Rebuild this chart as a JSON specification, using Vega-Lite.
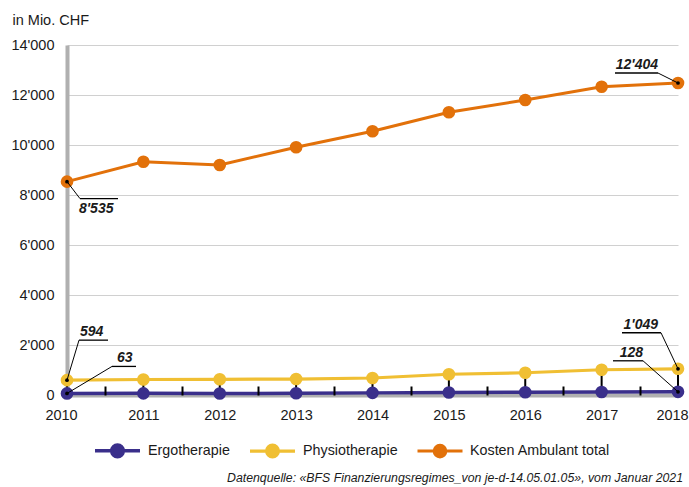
{
  "$schema": "https://vega.github.io/schema/vega-lite/v6.json",
  "width": 611,
  "height": 350,
  "autosize": {"type": "none"},
  "padding": {"left": 67, "top": 45, "right": 11, "bottom": 92},
  "background": "white",
  "config": {
    "view": {"stroke": null},
    "font": "Liberation Sans",
    "text": {"font": "Liberation Sans"}
  },
  "title": {
    "text": "Datenquelle: «BFS Finanzierungsregimes_von je-d-14.05.01.05», vom Januar 2021",
    "orient": "bottom",
    "anchor": "end",
    "frame": "group",
    "font": "Liberation Sans",
    "fontSize": 12.3,
    "fontStyle": "italic",
    "fontWeight": "normal",
    "color": "#1a1a1a",
    "offset": 8,
    "dx": 5
  },
  "datasets": {
    "main": [
      {"year": 2010, "series": "Ergotherapie", "value": 63, "label": "63"},
      {"year": 2011, "series": "Ergotherapie", "value": 66},
      {"year": 2012, "series": "Ergotherapie", "value": 60},
      {"year": 2013, "series": "Ergotherapie", "value": 70},
      {"year": 2014, "series": "Ergotherapie", "value": 85},
      {"year": 2015, "series": "Ergotherapie", "value": 100},
      {"year": 2016, "series": "Ergotherapie", "value": 110},
      {"year": 2017, "series": "Ergotherapie", "value": 120},
      {"year": 2018, "series": "Ergotherapie", "value": 128, "label": "128"},
      {"year": 2010, "series": "Physiotherapie", "value": 594, "label": "594"},
      {"year": 2011, "series": "Physiotherapie", "value": 620},
      {"year": 2012, "series": "Physiotherapie", "value": 630},
      {"year": 2013, "series": "Physiotherapie", "value": 640},
      {"year": 2014, "series": "Physiotherapie", "value": 680},
      {"year": 2015, "series": "Physiotherapie", "value": 830},
      {"year": 2016, "series": "Physiotherapie", "value": 890},
      {"year": 2017, "series": "Physiotherapie", "value": 1010},
      {"year": 2018, "series": "Physiotherapie", "value": 1049, "label": "1'049"},
      {"year": 2010, "series": "Kosten Ambulant total", "value": 8535, "label": "8'535"},
      {"year": 2011, "series": "Kosten Ambulant total", "value": 9330},
      {"year": 2012, "series": "Kosten Ambulant total", "value": 9200},
      {"year": 2013, "series": "Kosten Ambulant total", "value": 9910},
      {"year": 2014, "series": "Kosten Ambulant total", "value": 10550},
      {"year": 2015, "series": "Kosten Ambulant total", "value": 11310},
      {"year": 2016, "series": "Kosten Ambulant total", "value": 11800},
      {"year": 2017, "series": "Kosten Ambulant total", "value": 12330},
      {"year": 2018, "series": "Kosten Ambulant total", "value": 12480, "label": "12'404"}
    ]
  },
  "data": {"name": "main"},
  "resolve": {"axis": {"x": "independent", "y": "independent"}},
  "encoding": {
    "x": {"field": "year", "type": "quantitative", "scale": {"domain": [2010, 2018], "nice": false, "zero": false}, "axis": null},
    "y": {"field": "value", "type": "quantitative", "scale": {"domain": [0, 14000], "nice": false}, "axis": null}
  },
  "layer": [
    {
      "mark": {"type": "line"},
      "encoding": {
        "x": {"field": "year", "type": "quantitative", "scale": {"domain": [2010, 2018], "nice": false, "zero": false},
          "axis": {"orient": "bottom", "values": [2010, 2011, 2012, 2013, 2014, 2015, 2016, 2017, 2018], "format": "d", "labelFlush": false, "labelOverlap": false, "labelOffset": {"condition": {"test": "datum.value === 2010 || datum.value === 2018", "value": -6}, "value": 0}, "ticks": false, "domain": true, "domainColor": "#b0b0b0", "domainWidth": 4, "grid": false, "labelFontSize": 14.5, "labelColor": "#1a1a1a", "labelPadding": 13, "title": null, "zindex": 0}},
        "y": {"field": "value", "type": "quantitative", "scale": {"domain": [0, 14000], "nice": false},
          "axis": {"orient": "left", "values": [0, 2000, 4000, 6000, 8000, 10000, 12000, 14000], "labelExpr": "replace(format(datum.value, ','), ',', \"'\")", "ticks": false, "domain": true, "domainColor": "#b0b0b0", "domainWidth": 4, "grid": true, "gridColor": "#d0d0d0", "gridWidth": 1, "labelFontSize": 14.5, "labelColor": "#1a1a1a", "labelPadding": 13, "title": "in Mio. CHF", "titleAngle": 0, "titleX": -55, "titleY": -25, "titleAlign": "left", "titleBaseline": "middle", "titleFontSize": 14.5, "titleFontWeight": "normal", "titleColor": "#1a1a1a", "zindex": 0}},
        "color": {"field": "series", "type": "nominal",
          "scale": {"domain": ["Ergotherapie", "Physiotherapie", "Kosten Ambulant total"], "range": ["#3a2f8b", "#f0bf33", "#e2710a"]},
          "legend": {"orient": "none", "legendX": 26, "legendY": 381, "direction": "horizontal", "title": null, "padding": 0,
            "symbolType": "M-1,0L-0.26,0M0.26,0L1,0M-0.26,0A0.26,0.26,0,1,1,0.26,0A0.26,0.26,0,1,1,-0.26,0Z",
            "symbolSize": 2025, "symbolStrokeWidth": 3, "labelFontSize": 14.3, "labelColor": "#1a1a1a", "labelOffset": 6, "columnPadding": 13,
            "encode": {"symbols": {"update": {"fill": {"scale": "color", "field": "value"}, "stroke": {"scale": "color", "field": "value"}, "opacity": {"value": 1}}}}}},
        "strokeWidth": {"field": "series", "type": "nominal", "scale": {"domain": ["Ergotherapie", "Physiotherapie", "Kosten Ambulant total"], "range": [3.5, 3, 4]}, "legend": null},
        "detail": {"field": "series"}
      }
    },
    {
      "transform": [
        {"filter": "datum.series !== 'Kosten Ambulant total'"},
        {"pivot": "series", "value": "value", "groupby": ["year"]}
      ],
      "mark": {"type": "rule", "color": "black", "strokeWidth": 2},
      "encoding": {
        "x": {"field": "year", "type": "quantitative", "scale": {"domain": [2010, 2018], "nice": false, "zero": false},
          "axis": {"orient": "bottom", "values": [2010.5, 2011.5, 2012.5, 2013.5, 2014.5, 2015.5, 2016.5, 2017.5], "labels": false, "domain": false, "grid": false, "ticks": true, "tickSize": -9, "tickColor": "black", "tickWidth": 2, "title": null, "zindex": 1}},
        "y": {"field": "Ergotherapie", "type": "quantitative", "scale": {"domain": [0, 14000], "nice": false}, "axis": null},
        "y2": {"field": "Physiotherapie"}
      }
    },
    {
      "mark": {"type": "point", "filled": true, "opacity": 1, "size": 160},
      "encoding": {
        "color": {"field": "series", "type": "nominal", "scale": {"domain": ["Ergotherapie", "Physiotherapie", "Kosten Ambulant total"], "range": ["#3a2f8b", "#f0bf33", "#e2710a"]}}
      }
    },

    {"transform": [{"filter": "datum.label === \"8'535\""}], "mark": {"type": "rule", "color": "black", "strokeWidth": 1, "x2Offset": 13, "y2Offset": 17}, "encoding": {"x2": {"field": "year"}, "y2": {"field": "value"}}},
    {"transform": [{"filter": "datum.label === \"8'535\""}], "mark": {"type": "rule", "color": "black", "strokeWidth": 1.3, "xOffset": 13, "yOffset": 17, "x2Offset": 51, "y2Offset": 17}, "encoding": {"x2": {"field": "year"}, "y2": {"field": "value"}}},
    {"transform": [{"filter": "datum.label === \"8'535\""}], "mark": {"type": "text", "align": "left", "baseline": "middle", "dx": 12, "dy": 27, "fontSize": 14, "fontWeight": "bold", "fontStyle": "italic", "color": "#1a1a1a"}, "encoding": {"text": {"field": "label"}}},

    {"transform": [{"filter": "datum.label === '594'"}], "mark": {"type": "rule", "color": "black", "strokeWidth": 1, "x2Offset": 12, "y2Offset": -40}, "encoding": {"x2": {"field": "year"}, "y2": {"field": "value"}}},
    {"transform": [{"filter": "datum.label === '594'"}], "mark": {"type": "rule", "color": "black", "strokeWidth": 1.3, "xOffset": 12, "yOffset": -40, "x2Offset": 41, "y2Offset": -40}, "encoding": {"x2": {"field": "year"}, "y2": {"field": "value"}}},
    {"transform": [{"filter": "datum.label === '594'"}], "mark": {"type": "text", "align": "left", "baseline": "middle", "dx": 13, "dy": -48, "fontSize": 14, "fontWeight": "bold", "fontStyle": "italic", "color": "#1a1a1a"}, "encoding": {"text": {"field": "label"}}},

    {"transform": [{"filter": "datum.label === '63'"}], "mark": {"type": "rule", "color": "black", "strokeWidth": 1, "x2Offset": 45, "y2Offset": -27}, "encoding": {"x2": {"field": "year"}, "y2": {"field": "value"}}},
    {"transform": [{"filter": "datum.label === '63'"}], "mark": {"type": "rule", "color": "black", "strokeWidth": 1.3, "xOffset": 45, "yOffset": -27, "x2Offset": 69, "y2Offset": -27}, "encoding": {"x2": {"field": "year"}, "y2": {"field": "value"}}},
    {"transform": [{"filter": "datum.label === '63'"}], "mark": {"type": "text", "align": "left", "baseline": "middle", "dx": 50, "dy": -35, "fontSize": 14, "fontWeight": "bold", "fontStyle": "italic", "color": "#1a1a1a"}, "encoding": {"text": {"field": "label"}}},

    {"transform": [{"filter": "datum.label === \"1'049\""}], "mark": {"type": "rule", "color": "black", "strokeWidth": 1, "x2Offset": -17, "y2Offset": -36}, "encoding": {"x2": {"field": "year"}, "y2": {"field": "value"}}},
    {"transform": [{"filter": "datum.label === \"1'049\""}], "mark": {"type": "rule", "color": "black", "strokeWidth": 1.3, "xOffset": -56, "yOffset": -36, "x2Offset": -17, "y2Offset": -36}, "encoding": {"x2": {"field": "year"}, "y2": {"field": "value"}}},
    {"transform": [{"filter": "datum.label === \"1'049\""}], "mark": {"type": "text", "align": "right", "baseline": "middle", "dx": -20, "dy": -44, "fontSize": 14, "fontWeight": "bold", "fontStyle": "italic", "color": "#1a1a1a"}, "encoding": {"text": {"field": "label"}}},

    {"transform": [{"filter": "datum.label === '128'"}], "mark": {"type": "rule", "color": "black", "strokeWidth": 1, "x2Offset": -35, "y2Offset": -31}, "encoding": {"x2": {"field": "year"}, "y2": {"field": "value"}}},
    {"transform": [{"filter": "datum.label === '128'"}], "mark": {"type": "rule", "color": "black", "strokeWidth": 1.3, "xOffset": -65, "yOffset": -31, "x2Offset": -35, "y2Offset": -31}, "encoding": {"x2": {"field": "year"}, "y2": {"field": "value"}}},
    {"transform": [{"filter": "datum.label === '128'"}], "mark": {"type": "text", "align": "right", "baseline": "middle", "dx": -35, "dy": -39, "fontSize": 14, "fontWeight": "bold", "fontStyle": "italic", "color": "#1a1a1a"}, "encoding": {"text": {"field": "label"}}},

    {"transform": [{"filter": "datum.label === \"12'404\""}], "mark": {"type": "rule", "color": "black", "strokeWidth": 1, "x2Offset": -20, "y2Offset": -10}, "encoding": {"x2": {"field": "year"}, "y2": {"field": "value"}}},
    {"transform": [{"filter": "datum.label === \"12'404\""}], "mark": {"type": "rule", "color": "black", "strokeWidth": 1.3, "xOffset": -63, "yOffset": -10, "x2Offset": -20, "y2Offset": -10}, "encoding": {"x2": {"field": "year"}, "y2": {"field": "value"}}},
    {"transform": [{"filter": "datum.label === \"12'404\""}], "mark": {"type": "text", "align": "right", "baseline": "middle", "dx": -20, "dy": -18, "fontSize": 14, "fontWeight": "bold", "fontStyle": "italic", "color": "#1a1a1a"}, "encoding": {"text": {"field": "label"}}},

    {"transform": [{"filter": "isValid(datum.label)"}], "mark": {"type": "point", "filled": true, "color": "black", "opacity": 1, "size": 14}}
  ]
}
